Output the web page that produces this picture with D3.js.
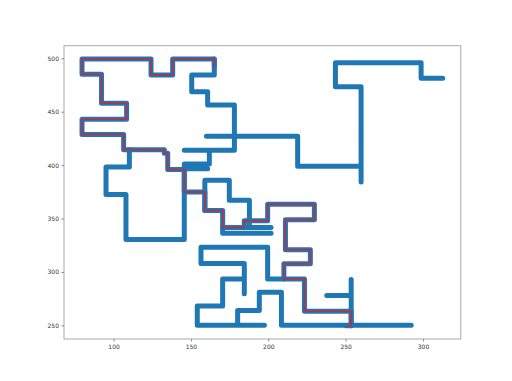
<!DOCTYPE html>
<meta charset="utf-8">
<head>
<script src="https://cdn.jsdelivr.net/npm/d3@7/dist/d3.min.js"></script>
<style>
body { margin: 0; background: #fff; }
.tick text { font-family: "DejaVu Sans", sans-serif; font-size: 6px; }
</style>
</head>
<body>
<div id="chart"></div>
<script>
// walk segments, null = pen up
var walkX = [
  312.8,298.8,298.8,243.4,243.4,260,260, null,
  260,219,219,160, null,
  165.1,165.1,150.5,150.5,160.8,160.8,178.1,178.1,145.7, null,
  161.9,161.9,145.7,145.7,108,108,95.1,95.1,110.2,110.2, null,
  145.7,160.8, null,
  159,159,174.8,174.8,187.8,187.8, null,
  184.5,201.8, null,
  170.5,170.5,201.8, null,
  210.1,199.6,199.6,156.5,156.5,184.5,184.5, null,
  184.5,170.5,170.5,154.1,154.1,197.5, null,
  180.2,180.2,194.2,194.2,208.5,208.5,292.4, null,
  237.8,253.6, null,
  253.6,253.6
];
var walkY = [
  481.2,481.2,495.9,495.9,473.3,473.3,384.2, null,
  398.9,398.9,427.1,427.1, null,
  499.3,484.3,484.3,468.7,468.7,456.2,456.2,413.9,413.9, null,
  413.9,401,401,330.4,330.4,372.4,372.4,398.3,398.3,414.3, null,
  396.5,396.5, null,
  357.6,385.8,385.8,367,367,341.5, null,
  341.5,341.5, null,
  341.5,336.3,336.3, null,
  293.5,293.5,323.2,323.2,307.9,307.9,279.5, null,
  293.5,293.5,268,268,250.2,250.2, null,
  250.2,263.8,263.8,281,281,250.2,250.2, null,
  277.9,277.9, null,
  292.9,249.7
];

// solved path
var pathX = [165.1,165.1,138.2,138.2,124.2,124.2,79.6,79.6,92.2,92.2,108.4,108.4,79.6,79.6,106.5,106.5,
  132.8,132.8,135,135,145.7,145.7,159,159,170.5,170.5,184.5,184.5,199.6,199.6,229.8,229.8,211.1,211.1,
  227.2,227.2,210.1,210.1,223.4,223.4,253.6,253.6,250.3];
var pathY = [492.1,499.3,499.3,484.3,484.3,499.3,499.3,485,485,457.8,457.8,443,443,428.7,428.7,414.3,
  414.3,411,411,396,396,374.8,374.8,357.6,357.6,341.5,341.5,347.8,347.8,363.3,363.3,348.9,348.9,320.8,
  320.8,307.6,307.6,293.5,293.5,263.3,263.3,249.7,249.7];

var xTicks = [100, 150, 200, 250, 300];
var yTicks = [250, 300, 350, 400, 450, 500];

var W = 512, H = 381;
var margin = {top: 45.7, right: 51.2, bottom: 42, left: 64};
var width = W - margin.left - margin.right,
    height = H - margin.top - margin.bottom;

var walk = walkX.map(function(d, i) { return [d, walkY[i]]; });
var path = pathX.map(function(d, i) { return [d, pathY[i]]; });

// 5% padding like matplotlib autoscale
var all = walk.concat(path).filter(function(d) { return d[0] != null; });
var xe = d3.extent(all, function(d) { return d[0]; }),
    ye = d3.extent(all, function(d) { return d[1]; });
var xp = (xe[1] - xe[0]) * 0.05, yp = (ye[1] - ye[0]) * 0.05;

var x = d3.scaleLinear().domain([xe[0] - xp, xe[1] + xp]).range([0, width]);
var y = d3.scaleLinear().domain([ye[0] - yp, ye[1] + yp]).range([height, 0]);

var svg = d3.select("#chart").append("svg")
    .attr("width", W)
    .attr("height", H)
    .style("background", "#fff")
  .append("g")
    .attr("transform", "translate(" + margin.left + "," + margin.top + ")");

var line = d3.line()
    .defined(function(d) { return d[0] != null; })
    .x(function(d) { return x(d[0]); })
    .y(function(d) { return y(d[1]); });

svg.append("path")
    .attr("d", line(walk))
    .attr("fill", "none")
    .attr("stroke", "#1f77b4")
    .attr("stroke-width", 5)
    .attr("stroke-linecap", "round")
    .attr("stroke-linejoin", "round");

svg.append("path")
    .attr("d", line(path))
    .attr("fill", "none")
    .attr("stroke", "#1f77b4")
    .attr("stroke-width", 5)
    .attr("stroke-linecap", "round")
    .attr("stroke-linejoin", "round");

svg.append("path")
    .attr("d", line(path))
    .attr("fill", "none")
    .attr("stroke", "#c42a40")
    .attr("stroke-width", 1.5)
    .attr("stroke-linejoin", "miter");

// frame
svg.append("rect")
    .attr("width", width)
    .attr("height", height)
    .attr("fill", "none")
    .attr("stroke", "#aaa")
    .attr("stroke-width", 1);

var xAxis = svg.append("g")
    .attr("transform", "translate(0," + height + ")")
    .attr("color", "#333")
    .call(d3.axisBottom(x).tickValues(xTicks).tickSize(2.5).tickPadding(3));
var yAxis = svg.append("g")
    .attr("color", "#333")
    .call(d3.axisLeft(y).tickValues(yTicks).tickSize(2.5).tickPadding(2.5));

[xAxis, yAxis].forEach(function(a) {
  a.select(".domain").remove();
  a.selectAll(".tick line").attr("stroke", "#888");
  a.selectAll(".tick text").attr("fill", "#333");
});
</script>
</body>
